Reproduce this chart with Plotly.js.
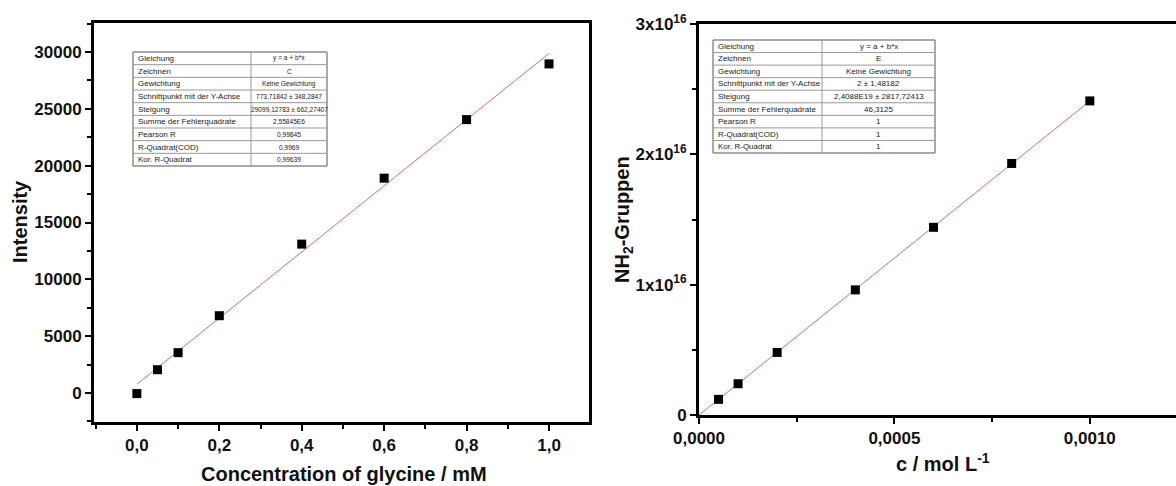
<!DOCTYPE html>
<html><head><meta charset="utf-8">
<script src="https://cdn.plot.ly/plotly-3.0.1.min.js"></script>
<style>html,body{margin:0;padding:0;background:#fff;}#c{width:1176px;height:486px;}</style>
</head><body><div id="c"></div>
<script>
// ---- data ----
const glycineConc = [0, 0.05, 0.1, 0.2, 0.4, 0.6, 0.8, 1.0];
const intensity   = [-50, 2050, 3550, 6800, 13100, 18900, 24050, 28950];
const fit1X = [0, 1.0];
const fit1Y = [773.7, 29872.8];

const concMol = [0.00005, 0.0001, 0.0002, 0.0004, 0.0006, 0.0008, 0.0010];
const nh2Groups = [1.2e15, 2.4e15, 4.8e15, 9.6e15, 1.44e16, 1.93e16, 2.41e16];
const fit2X = [0, 0.0010];
const fit2Y = [2, 2.4088e16];

const nh2TickVals = [0, 1e16, 2e16, 3e16];
const nh2TickText = ['0', '1x10<sup>16</sup>', '2x10<sup>16</sup>', '3x10<sup>16</sup>'];

const tableLabels = ['Gleichung', 'Zeichnen', 'Gewichtung', 'Schnittpunkt mit der Y-Achse', 'Steigung',
  'Summe der Fehlerquadrate', 'Pearson R', 'R-Quadrat(COD)', 'Kor. R-Quadrat'];
const table1Values = ['y = a + b*x', 'C', 'Keine Gewichtung', '773,71842 \u00b1 348,2847', '29099,12783 \u00b1 662,27407',
  '2,55845E6', '0,99845', '0,9969', '0,99639'];
const table2Values = ['y = a + b*x', 'E', 'Keine Gewichtung', '2 \u00b1 1,48182', '2,4088E19 \u00b1 2817,72413',
  '46,3125', '1', '1', '1'];

// ---- layout helpers ----
const W = 1176, H = 486;
const px = x => x / W;
const py = y => 1 - y / H;

const FONT = 'Liberation Sans, Arial, sans-serif';
const red = 'rgb(235,100,105)';

const traces = [
  {x: fit1X, y: fit1Y, xaxis: 'x', yaxis: 'y', mode: 'lines', line: {color: red, width: 1}, hoverinfo: 'skip'},
  {x: glycineConc, y: intensity, xaxis: 'x', yaxis: 'y', mode: 'markers',
   marker: {symbol: 'square', size: 9, color: '#000'}},
  {x: fit2X, y: fit2Y, xaxis: 'x2', yaxis: 'y2', mode: 'lines', line: {color: red, width: 1}, hoverinfo: 'skip'},
  {x: concMol, y: nh2Groups, xaxis: 'x2', yaxis: 'y2', mode: 'markers',
   marker: {symbol: 'square', size: 9, color: '#000'}}
];

const tickFont = {family: FONT, size: 17, color: '#111', weight: 'bold'};
const axisBase = {
  showgrid: false, zeroline: false, showline: true, linecolor: '#000', linewidth: 3,
  ticks: 'outside', ticklen: 6, tickwidth: 2, tickcolor: '#000', tickfont: tickFont
};

// tables as shapes + annotations
const shapes = [];
const annotations = [];
function addTable(x0, xm, x1, y0, y1, labels, values, valSize) {
  const n = labels.length;
  const rh = (y1 - y0) / n;
  shapes.push({type: 'rect', xref: 'paper', yref: 'paper', x0: px(x0), x1: px(x1), y0: py(y0), y1: py(y1),
    line: {color: '#555', width: 1}, fillcolor: '#fff', layer: 'above'});
  for (let i = 1; i < n; i++) {
    const yy = y0 + i * rh;
    shapes.push({type: 'line', xref: 'paper', yref: 'paper', x0: px(x0), x1: px(x1), y0: py(yy), y1: py(yy),
      line: {color: '#999', width: 1}, layer: 'above'});
  }
  shapes.push({type: 'line', xref: 'paper', yref: 'paper', x0: px(xm), x1: px(xm), y0: py(y0), y1: py(y1),
    line: {color: '#999', width: 1}, layer: 'above'});
  for (let i = 0; i < n; i++) {
    const yc = y0 + (i + 0.5) * rh;
    annotations.push({xref: 'paper', yref: 'paper', x: px(x0 + 3), y: py(yc), xanchor: 'left', yanchor: 'middle',
      text: labels[i], showarrow: false, font: {family: FONT, size: 8, color: '#222'}});
    annotations.push({xref: 'paper', yref: 'paper', x: px((xm + x1) / 2), y: py(yc), xanchor: 'center', yanchor: 'middle',
      text: values[i], showarrow: false, font: {family: FONT, size: valSize, color: '#222'}});
  }
}
addTable(133, 251, 327, 52, 166, tableLabels, table1Values, 6.6);
addTable(713, 822, 935, 40, 153, tableLabels, table2Values, 8);

// axis titles
annotations.push({xref: 'paper', yref: 'paper', x: px(344), y: py(474), xanchor: 'center', yanchor: 'middle',
  text: 'Concentration of glycine / mM', showarrow: false, font: {family: FONT, size: 20, color: '#111', weight: 'bold'}});
annotations.push({xref: 'paper', yref: 'paper', x: px(20), y: py(222), xanchor: 'center', yanchor: 'middle', textangle: -90,
  text: 'Intensity', showarrow: false, font: {family: FONT, size: 20, color: '#111', weight: 'bold'}});
annotations.push({xref: 'paper', yref: 'paper', x: px(943), y: py(462), xanchor: 'center', yanchor: 'middle',
  text: 'c / mol L<sup>-1</sup>', showarrow: false, font: {family: FONT, size: 20, color: '#111', weight: 'bold'}});
annotations.push({xref: 'paper', yref: 'paper', x: px(624), y: py(220), xanchor: 'center', yanchor: 'middle', textangle: -90,
  text: 'NH<sub>2</sub>-Gruppen', showarrow: false, font: {family: FONT, size: 20, color: '#111', weight: 'bold'}});

const layout = {
  width: W, height: H, margin: {l: 0, r: 0, t: 0, b: 0},
  paper_bgcolor: '#fff', plot_bgcolor: '#fff', showlegend: false,
  separators: ',.',
  font: {family: FONT},
  xaxis: Object.assign({}, axisBase, {
    domain: [px(94), px(589)], range: [-0.104, 1.097], anchor: 'y', mirror: true,
    tickmode: 'linear', tick0: 0, dtick: 0.2, tickformat: '.1f',
    minor: {ticks: 'outside', ticklen: 4, tickwidth: 2, tickcolor: '#000', dtick: 0.1, tick0: 0}
  }),
  yaxis: Object.assign({}, axisBase, {
    domain: [py(422), py(23)], range: [-2550, 32550], anchor: 'x', mirror: true,
    tickmode: 'linear', tick0: 0, dtick: 5000, tickformat: 'd',
    minor: {ticks: 'outside', ticklen: 4, tickwidth: 2, tickcolor: '#000', dtick: 2500, tick0: 0}
  }),
  xaxis2: Object.assign({}, axisBase, {
    domain: [px(699), 1], range: [0, 0.0012205], anchor: 'y2', mirror: true,
    tickmode: 'linear', tick0: 0, dtick: 0.0005, tickformat: '.4f',
    minor: {ticks: 'outside', ticklen: 4, tickwidth: 2, tickcolor: '#000', dtick: 0.00025, tick0: 0}
  }),
  yaxis2: Object.assign({}, axisBase, {
    domain: [py(415), py(24)], range: [0, 3e16], anchor: 'x2', mirror: false,
    tickmode: 'array', tickvals: nh2TickVals, ticktext: nh2TickText,
    minor: {ticks: 'outside', ticklen: 4, tickwidth: 2, tickcolor: '#000', tickvals: [0.5e16, 1.5e16, 2.5e16]}
  }),
  shapes: shapes,
  annotations: annotations
};

Plotly.newPlot('c', traces, layout, {staticPlot: true, displayModeBar: false});
</script>
</body></html>
